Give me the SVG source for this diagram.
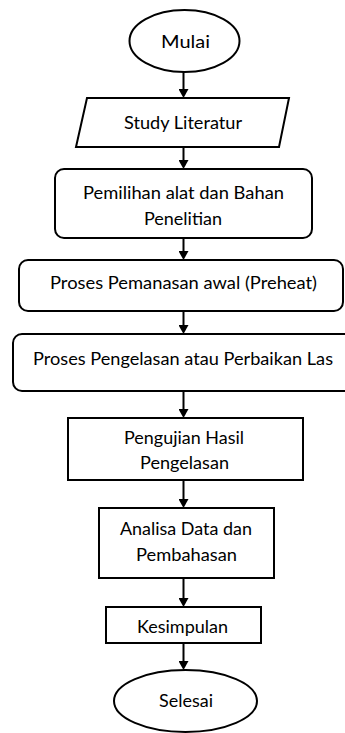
<svg xmlns="http://www.w3.org/2000/svg" width="345" height="733" viewBox="0 0 345 733">
<defs>
<style>
.s{fill:#fff;stroke:#000;stroke-width:2}
.t{font-family:Lato,"Liberation Sans",sans-serif;font-size:18px;fill:#000;text-anchor:middle}
.c{stroke:#000;stroke-width:2;fill:none;marker-end:url(#ah)}
</style>
<marker id="ah" viewBox="0 0 9 10" refX="4" refY="5" markerWidth="9" markerHeight="10" markerUnits="userSpaceOnUse" orient="auto">
<path d="M0,0 L9,5 L0,10 z" fill="#000"/>
</marker>
</defs>
<rect width="345" height="733" fill="#fff"/>
<g id="connectors">
<line class="c" x1="183.5" y1="72" x2="183.5" y2="93"/>
<line class="c" x1="183.5" y1="147" x2="183.5" y2="164"/>
<line class="c" x1="183.5" y1="238" x2="183.5" y2="255"/>
<line class="c" x1="183.5" y1="311" x2="183.5" y2="329"/>
<line class="c" x1="183.5" y1="391" x2="183.5" y2="413"/>
<line class="c" x1="183.5" y1="480" x2="183.5" y2="503"/>
<line class="c" x1="183.5" y1="578" x2="183.5" y2="602"/>
<line class="c" x1="183.5" y1="643" x2="183.5" y2="665"/>
</g>
<g id="mulai">
<ellipse class="s" cx="184.5" cy="41" rx="55" ry="31"/>
<text class="t" x="185.5" y="48" textLength="49" lengthAdjust="spacingAndGlyphs">Mulai</text>
</g>
<g id="study">
<polygon class="s" points="87,98 289,98 279,147 76,147"/>
<text class="t" x="183" y="129" textLength="118" lengthAdjust="spacingAndGlyphs">Study Literatur</text>
</g>
<g id="pemilihan">
<rect class="s" x="55" y="169" width="257" height="69" rx="9"/>
<text class="t" x="183.5" y="199" textLength="201" lengthAdjust="spacingAndGlyphs">Pemilihan alat dan Bahan</text>
<text class="t" x="183" y="225" textLength="78" lengthAdjust="spacingAndGlyphs">Penelitian</text>
</g>
<g id="preheat">
<rect class="s" x="19" y="260" width="324" height="51" rx="9"/>
<text class="t" x="183.5" y="289" textLength="267" lengthAdjust="spacingAndGlyphs">Proses Pemanasan awal (Preheat)</text>
</g>
<g id="pengelasan">
<rect class="s" x="13" y="334" width="345" height="57" rx="9"/>
<text class="t" x="183" y="365" textLength="300" lengthAdjust="spacingAndGlyphs">Proses Pengelasan atau Perbaikan Las</text>
</g>
<g id="pengujian">
<rect class="s" x="68" y="418" width="235" height="62"/>
<text class="t" x="184" y="444" textLength="120" lengthAdjust="spacingAndGlyphs">Pengujian Hasil</text>
<text class="t" x="184.5" y="469" textLength="89" lengthAdjust="spacingAndGlyphs">Pengelasan</text>
</g>
<g id="analisa">
<rect class="s" x="99" y="508" width="175" height="70"/>
<text class="t" x="186" y="535" textLength="132" lengthAdjust="spacingAndGlyphs">Analisa Data dan</text>
<text class="t" x="186.5" y="561" textLength="101" lengthAdjust="spacingAndGlyphs">Pembahasan</text>
</g>
<g id="kesimpulan">
<rect class="s" x="106" y="607" width="155" height="36"/>
<text class="t" x="182.5" y="632.5" textLength="91" lengthAdjust="spacingAndGlyphs">Kesimpulan</text>
</g>
<g id="selesai">
<ellipse class="s" cx="185.5" cy="701" rx="71.5" ry="31"/>
<text class="t" x="186" y="706.5" textLength="54" lengthAdjust="spacingAndGlyphs">Selesai</text>
</g>
</svg>
